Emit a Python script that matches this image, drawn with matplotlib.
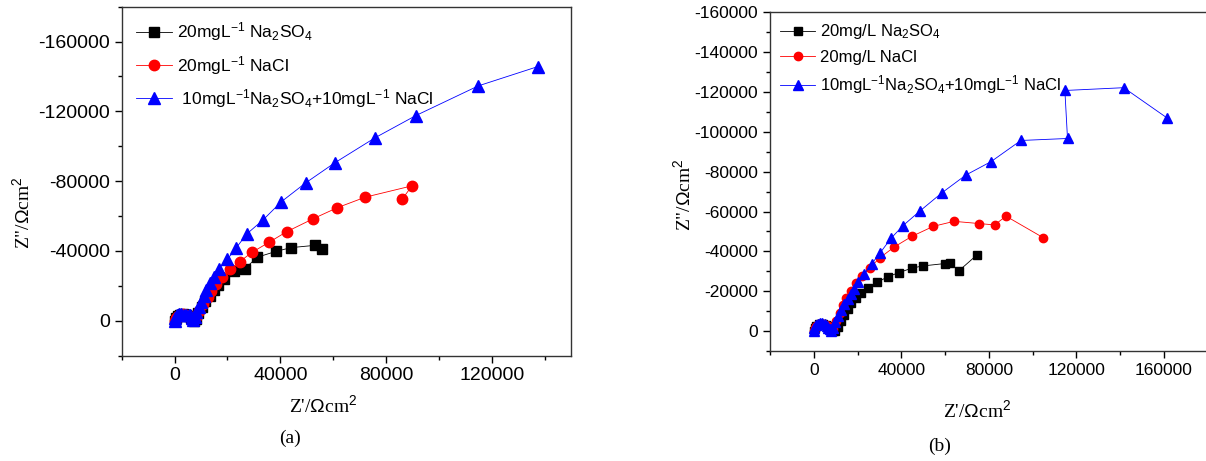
import matplotlib.pyplot as plt
from matplotlib.ticker import MultipleLocator

plt.rcParams['font.family'] = ['Liberation Sans', 'DejaVu Sans']
plt.rcParams['mathtext.fontset'] = 'custom'
plt.rcParams['mathtext.rm'] = 'Liberation Sans'
plt.rcParams['mathtext.it'] = 'Liberation Sans:italic'
plt.rcParams['axes.unicode_minus'] = False

# (a) Z' and Z'' in ohm cm2
a_so4_x = [0, 400, 1200, 2200, 3300, 4400, 5400, 6200, 6800, 7200, 8000, 9000, 10300, 11700, 13300,
           14900, 16500, 18700, 22600, 26600, 31300, 38500, 44100, 53100, 55900]
a_so4_y = [0, -1500, -2700, -3400, -3600, -3400, -2700, -1700, -700, 0, -1000, -4200, -7700, -11100, -14300,
           -17600, -20600, -23700, -28300, -29800, -36400, -39800, -41900, -43200, -41100]
a_cl_x = [0, 400, 1200, 2200, 3300, 4400, 5400, 6200, 6800, 7200, 8000, 9200, 10700, 12500, 13900,
          15800, 18100, 21000, 24600, 29300, 35900, 42400, 52500, 61600, 72100, 89800, 86200]
a_cl_y = [0, -1500, -2700, -3400, -3600, -3400, -2700, -1700, -700, -400, -2300, -5700, -9600, -13800, -17000,
          -21000, -25200, -29500, -33800, -39200, -45100, -51000, -58500, -64800, -70800, -77300, -69800]
a_mix_x = [0, 300, 900, 1700, 2600, 3500, 4400, 5300, 6000, 6600, 6900, 7600, 8300, 9100, 10000, 11000,
           12000, 13300, 14800, 16800, 20000, 23400, 27300, 33500, 40400, 49600, 60700, 75900, 91300,
           114900, 137500]
a_mix_y = [0, -1800, -3000, -3600, -3700, -3300, -3000, -3300, -3000, -1800, -200, -2300, -5000, -8000,
           -11000, -14300, -17600, -21400, -25200, -29800, -35200, -41900, -49700, -57800, -68200, -79000,
           -90600, -104900, -117600, -134600, -145700]

# (b)
b_so4_x = [0, 400, 1200, 2200, 3300, 4400, 5500, 6500, 7300, 7900, 8600, 9700, 11000, 12500, 14000, 15500,
           17100, 19200, 21700, 24900, 28900, 33900, 38700, 44800, 49700, 59800, 62200, 66300, 74700]
b_so4_y = [0, -1500, -2700, -3500, -3800, -3700, -3200, -2400, -1400, -500, -100, 0, -2100, -5100, -8100,
           -11000, -13900, -16500, -18900, -21600, -24500, -27300, -29300, -31600, -32700, -33900, -34200,
           -30300, -38400]
b_cl_x = [0, 400, 1200, 2200, 3300, 4400, 5500, 6500, 7300, 7900, 8600, 10300, 11900, 13400, 14900, 16800,
          19400, 22100, 25500, 30200, 36700, 44700, 54600, 64100, 75400, 82600, 87800, 104800]
b_cl_y = [0, -1500, -2700, -3500, -3800, -3700, -3200, -2400, -1400, -500, -900, -5100, -9300, -13200,
          -16600, -20300, -24100, -27800, -31700, -36800, -42200, -47500, -52600, -55100, -54000, -53300,
          -57700, -46900]
b_mix_x = [0, 300, 1000, 1900, 2900, 3900, 4900, 5800, 6600, 7200, 7700, 8600, 9700, 11000, 12400, 14000,
           15600, 17000, 18400, 20300, 23100, 26400, 30400, 35200, 40800, 48600, 58500, 69400, 81000, 94600,
           115900, 114700, 141600, 161400]
b_mix_y = [0, -1800, -3000, -3700, -4000, -3900, -3500, -2800, -1800, -800, -200, -1700, -4500, -7500,
           -10500, -13500, -16300, -18700, -21100, -24800, -28700, -33700, -39400, -46500, -53000, -60400,
           -69400, -78300, -85100, -95700, -96700, -120800, -122200, -107000]

labels_a = [r'20mgL$^{-1}$ Na$_2$SO$_4$', r'20mgL$^{-1}$ NaCl',
            r' 10mgL$^{-1}$Na$_2$SO$_4$+10mgL$^{-1}$ NaCl']
labels_b = [r'20mg/L Na$_2$SO$_4$', r'20mg/L NaCl',
            r'10mgL$^{-1}$Na$_2$SO$_4$+10mgL$^{-1}$ NaCl']

fig = plt.figure(figsize=(12.06, 4.61), dpi=100)
ax1 = fig.add_axes([0.1009, 0.2286, 0.3726, 0.7569])
ax2 = fig.add_axes([0.6385, 0.2386, 0.3630, 0.7345])

serif = ['Liberation Serif', 'DejaVu Serif']


def draw(ax, data, labels, ms, fs, tfs, lsp, pad):
    styles = [('black', 's'), ('red', 'o'), ('blue', '^')]
    for (x, y), lab, (c, m), s in zip(data, labels, styles, ms):
        ax.plot(x, y, color=c, marker=m, markersize=s, linewidth=0.6, label=lab)
    for sp in ax.spines.values():
        sp.set_linewidth(1.0)
        sp.set_color('#333333')
    ax.tick_params(which='both', direction='out', labelsize=tfs)
    ax.tick_params(which='major', length=5, width=1)
    ax.tick_params(which='minor', length=3, width=1)
    leg = ax.legend(loc='upper left', frameon=False, fontsize=fs, handlelength=2.1,
                    handletextpad=0.3, labelspacing=lsp, borderaxespad=pad)
    return leg


draw(ax1, [(a_so4_x, a_so4_y), (a_cl_x, a_cl_y), (a_mix_x, a_mix_y)], labels_a,
     [7, 7.5, 8], 12.5, 14, 0.6, 0.4)
ax1.set_xlim(-20000, 150000)
ax1.set_ylim(20000, -180000)
ax1.xaxis.set_minor_locator(MultipleLocator(20000))
ax1.yaxis.set_minor_locator(MultipleLocator(20000))
ax1.set_xticks([0, 40000, 80000, 120000])
ax1.set_yticks([0, -40000, -80000, -120000, -160000])
ax1.set_xlabel(r"Z'/$\Omega$cm$^2$", family=serif, fontsize=14)
ax1.set_ylabel(r'Z"/$\Omega$cm$^2$', family=serif, fontsize=14)

draw(ax2, [(b_so4_x, b_so4_y), (b_cl_x, b_cl_y), (b_mix_x, b_mix_y)], labels_b,
     [5.5, 6, 6.5], 12, 12.5, 0.5, 0.2)
ax2.set_xlim(-20000, 180000)
ax2.set_ylim(10000, -160000)
ax2.xaxis.set_minor_locator(MultipleLocator(20000))
ax2.set_xticks([0, 40000, 80000, 120000, 160000])
ax2.yaxis.set_major_locator(MultipleLocator(20000))
ax2.yaxis.set_minor_locator(MultipleLocator(10000))
ax2.set_xlabel(r"Z'/$\Omega$cm$^2$", family=serif, fontsize=14)
ax2.set_ylabel(r'Z"/$\Omega$cm$^2$', family=serif, fontsize=14)


# label positions in figure pixels
def put_labels(ax, xl, yl):
    inv = ax.transAxes.inverted()
    tr = fig.transFigure
    ax.xaxis.set_label_coords(*inv.transform(tr.transform((xl[0] / 1206, 1 - xl[1] / 461))))
    ax.yaxis.set_label_coords(*inv.transform(tr.transform((yl[0] / 1206, 1 - yl[1] / 461))))
    ax.xaxis.label.set_va('center')
    ax.yaxis.label.set_va('center')


put_labels(ax1, (323, 405), (22, 213))
put_labels(ax2, (977, 410), (683, 195))

fig.text(290 / 1206, 1 - 438 / 461, '(a)', family=serif, fontsize=14, ha='center', va='center')
fig.text(940 / 1206, 1 - 446 / 461, '(b)', family=serif, fontsize=14, ha='center', va='center')

plt.savefig('out.png', dpi=100)
